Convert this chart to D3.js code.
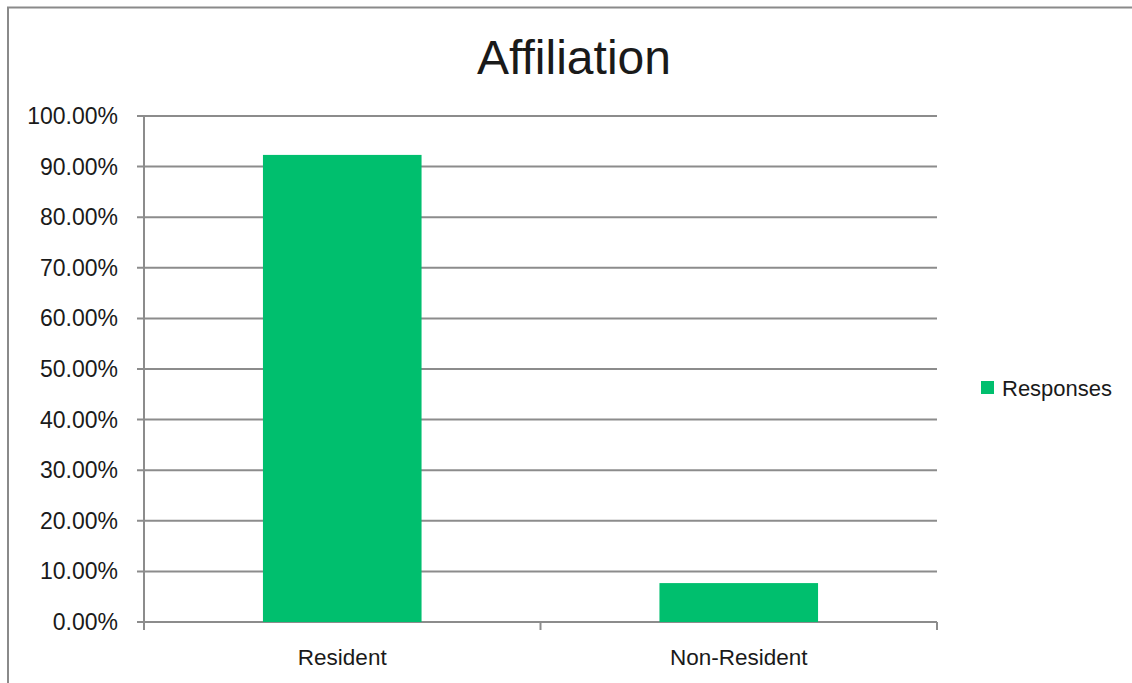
<!DOCTYPE html>
<html><head><meta charset="utf-8">
<script src="https://cdn.jsdelivr.net/npm/d3@7"></script>
<style>body{margin:0;background:#fff}svg{display:block}text{font-family:"Liberation Sans",Arial,sans-serif;fill:#1a1a1a}</style>
</head><body>
<script>
const categories = ["Resident", "Non-Resident"];
const responses = [0.9231, 0.0769];
const yTicks = [0, 0.1, 0.2, 0.3, 0.4, 0.5, 0.6, 0.7, 0.8, 0.9, 1.0];
const seriesName = "Responses";
const title = "Affiliation";

(function () {
const W = 1132, H = 683;
const svg = d3.select("body").append("svg").attr("width", W).attr("height", H);
svg.append("rect").attr("x", 0).attr("y", 0).attr("width", W).attr("height", H).attr("fill", "#fff");
svg.append("path").attr("d", `M8,${H+2}V7.5H${W+2}`).attr("fill", "none").attr("stroke", "#8a8a8a").attr("stroke-width", 2);

const pL = 144, pR = 937, pT = 116, pB = 622;
const x = d3.scaleBand().domain(categories).range([pL, pR]).paddingInner(0.6).paddingOuter(0.3);
const y = d3.scaleLinear().domain([0, 1]).range([pB, pT]);
const grid = "#8c8c8c";

svg.append("g").selectAll("line").data(yTicks).join("line")
  .attr("x1", pL - 7).attr("x2", pR).attr("y1", d => y(d)).attr("y2", d => y(d))
  .attr("stroke", grid).attr("stroke-width", 2);

svg.append("g").selectAll("rect").data(categories).join("rect")
  .attr("x", d => x(d)).attr("width", x.bandwidth())
  .attr("y", (d, i) => y(responses[i])).attr("height", (d, i) => y(0) - y(responses[i]))
  .attr("fill", "#00bf6e");

svg.append("line").attr("x1", pL).attr("x2", pL).attr("y1", pT).attr("y2", pB + 8)
  .attr("stroke", grid).attr("stroke-width", 2);
const xEdges = [pL, (pL + pR) / 2, pR];
svg.append("g").selectAll("line").data(xEdges).join("line")
  .attr("x1", d => d).attr("x2", d => d).attr("y1", pB).attr("y2", pB + 8)
  .attr("stroke", grid).attr("stroke-width", 2);

const fmt = d3.format(".2%");
svg.append("g").selectAll("text").data(yTicks).join("text")
  .attr("x", 118).attr("y", d => y(d)).attr("dy", "0.35em").attr("text-anchor", "end")
  .attr("font-size", 23).text(d => fmt(d));

svg.append("g").selectAll("text").data(categories).join("text")
  .attr("x", d => x(d) + x.bandwidth() / 2).attr("y", 657).attr("dy", "0.35em")
  .attr("text-anchor", "middle").attr("font-size", 22.5).text(d => d);

svg.append("text").attr("x", 574).attr("y", 57).attr("dy", "0.35em").attr("text-anchor", "middle")
  .attr("font-size", 48).attr("fill", "#000").text(title);

svg.append("rect").attr("x", 981).attr("y", 381).attr("width", 13).attr("height", 13).attr("fill", "#00bf6e");
svg.append("text").attr("x", 1002).attr("y", 388).attr("dy", "0.35em").attr("font-size", 22).text(seriesName);
})();
</script>
</body></html>
